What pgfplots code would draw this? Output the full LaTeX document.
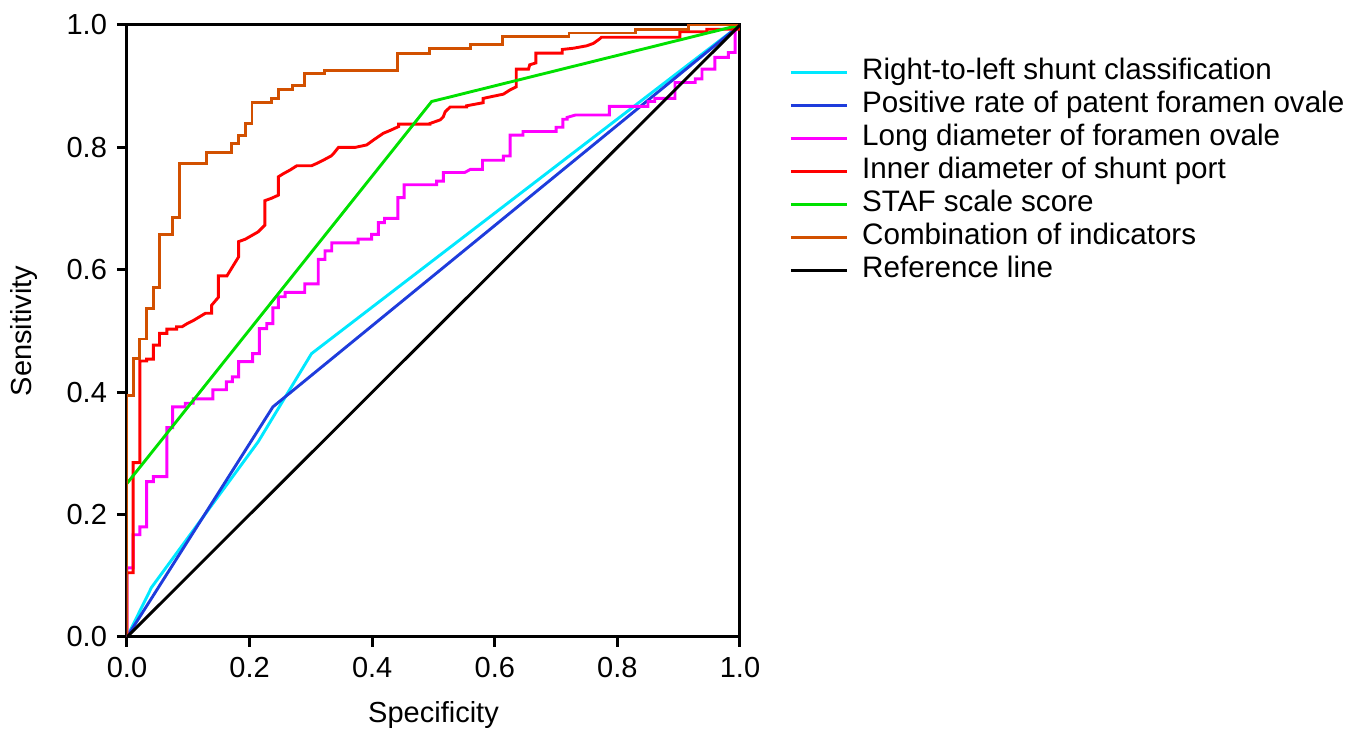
\documentclass[border=0pt]{standalone}
\usepackage{fontspec}
\setmainfont{Liberation Sans}
\usepackage{pgfplots}
\pgfplotsset{compat=1.18}

\definecolor{rlscol}{RGB}{0,232,255}
\definecolor{pfocol}{RGB}{30,60,220}
\definecolor{longcol}{RGB}{255,0,255}
\definecolor{innercol}{RGB}{255,0,0}
\definecolor{stafcol}{RGB}{0,225,0}
\definecolor{combcol}{RGB}{210,80,0}

\begin{document}
\fontsize{14.5}{17}\selectfont
\begin{tikzpicture}
\useasboundingbox (-63.5pt,-46pt) rectangle (609.5pt,318.5pt);
\begin{axis}[
    at={(0pt,0pt)}, anchor=south west,
    scale only axis,
    width=306.5pt, height=306pt,
    xmin=0, xmax=1, ymin=0, ymax=1,
    axis line style={line width=1.5pt},
    tick align=outside,
    xtick pos=left, ytick pos=left,
    major tick length=5pt,
    tick style={line width=1.5pt, black},
    xtick={0,0.2,0.4,0.6,0.8,1},
    ytick={0,0.2,0.4,0.6,0.8,1},
    xticklabels={0.0,0.2,0.4,0.6,0.8,1.0},
    yticklabels={0.0,0.2,0.4,0.6,0.8,1.0},
    xlabel={Specificity},
    ylabel={Sensitivity},
    xlabel style={at={(axis description cs:0.5,-0.127)}, anchor=center},
    ylabel style={at={(axis description cs:-0.168,0.5)}, anchor=center, rotate=0},
    legend style={at={(axis description cs:1.07,0.955)}, anchor=north west,
        draw=none, fill=none, row sep=1pt, column sep=6pt,
        font=\fontsize{14.8}{17}\selectfont,
        nodes={inner sep=1pt, text height=10.5pt, text depth=3pt},
        cells={anchor=west}},
    legend image code/.code={\draw[#1] (0pt,0pt) -- (28pt,0pt);},
    every axis plot/.append style={line width=1.45pt, line join=miter},
]
\addplot[rlscol] coordinates {
    (0,0) (0.040,0.081) (0.214,0.319) (0.301,0.463) (1,1)
};
\addlegendentry{Right-to-left shunt classification}
\addplot[pfocol] coordinates {
    (0,0) (0.238,0.376) (1,1)
};
\addlegendentry{Positive rate of patent foramen ovale}
\addplot[longcol] coordinates {
    (0,0) (0,0.113) (0.010,0.113) (0.010,0.167) (0.021,0.167) (0.021,0.180)
    (0.032,0.180) (0.032,0.254) (0.043,0.254) (0.043,0.262) (0.065,0.262)
    (0.065,0.342) (0.0745,0.342) (0.0745,0.376) (0.095,0.376) (0.095,0.382)
    (0.108,0.382) (0.108,0.389) (0.140,0.389) (0.140,0.404) (0.162,0.404)
    (0.162,0.417) (0.172,0.417) (0.172,0.425) (0.182,0.425) (0.182,0.450)
    (0.205,0.450) (0.205,0.463) (0.216,0.463) (0.216,0.504) (0.228,0.504)
    (0.228,0.512) (0.238,0.512) (0.238,0.538) (0.247,0.538) (0.247,0.556)
    (0.258,0.556) (0.258,0.563) (0.290,0.563) (0.290,0.577) (0.312,0.577)
    (0.312,0.617) (0.323,0.617) (0.323,0.631) (0.334,0.631) (0.334,0.644)
    (0.377,0.644) (0.377,0.650) (0.399,0.650) (0.399,0.658) (0.410,0.658)
    (0.410,0.677) (0.420,0.677) (0.420,0.684) (0.442,0.684) (0.442,0.718)
    (0.452,0.718) (0.452,0.739) (0.505,0.739) (0.505,0.745) (0.516,0.745)
    (0.516,0.759) (0.551,0.759) (0.560,0.764) (0.580,0.764) (0.580,0.779)
    (0.614,0.779) (0.614,0.786) (0.625,0.786) (0.625,0.820) (0.646,0.820)
    (0.646,0.826) (0.700,0.826) (0.700,0.833) (0.711,0.833) (0.711,0.846)
    (0.718,0.846) (0.718,0.849) (0.732,0.853) (0.787,0.853) (0.787,0.867)
    (0.850,0.867) (0.850,0.875) (0.861,0.875) (0.861,0.880) (0.894,0.880)
    (0.894,0.906) (0.927,0.906) (0.927,0.912) (0.938,0.912) (0.938,0.928)
    (0.959,0.928) (0.959,0.947) (0.981,0.947) (0.981,0.955) (0.992,0.955)
    (0.992,0.990) (1,1)
};
\addlegendentry{Long diameter of foramen ovale}
\addplot[innercol] coordinates {
    (0,0) (0,0.105) (0.010,0.105) (0.010,0.285) (0.021,0.285) (0.021,0.451)
    (0.032,0.451) (0.032,0.454) (0.043,0.454) (0.043,0.477) (0.053,0.477)
    (0.053,0.496) (0.065,0.496) (0.065,0.503) (0.081,0.503) (0.081,0.507)
    (0.090,0.507) (0.098,0.512) (0.108,0.517) (0.118,0.523) (0.128,0.529)
    (0.138,0.529) (0.138,0.542) (0.149,0.555) (0.149,0.590) (0.163,0.590)
    (0.182,0.621) (0.182,0.646) (0.193,0.650) (0.214,0.662) (0.225,0.673)
    (0.225,0.713) (0.236,0.717) (0.247,0.722) (0.247,0.752) (0.255,0.757)
    (0.266,0.763) (0.277,0.770) (0.301,0.770) (0.310,0.774) (0.320,0.779)
    (0.333,0.786) (0.337,0.790) (0.345,0.800) (0.372,0.800) (0.391,0.804)
    (0.402,0.812) (0.418,0.823) (0.430,0.828) (0.443,0.834) (0.443,0.838)
    (0.494,0.838) (0.494,0.839) (0.511,0.845) (0.516,0.850) (0.519,0.858)
    (0.527,0.866) (0.554,0.866) (0.554,0.868) (0.581,0.873) (0.581,0.880)
    (0.590,0.882) (0.614,0.887) (0.625,0.894) (0.635,0.899) (0.635,0.928)
    (0.655,0.928) (0.657,0.935) (0.667,0.938) (0.667,0.954) (0.710,0.954)
    (0.710,0.960) (0.728,0.962) (0.750,0.966) (0.761,0.970) (0.772,0.978)
    (0.774,0.980) (0.902,0.980) (0.902,0.989) (0.946,0.989) (0.946,0.993)
    (1,0.993) (1,1)
};
\addlegendentry{Inner diameter of shunt port}
\addplot[stafcol] coordinates {
    (0,0.251) (0.497,0.875) (1,1)
};
\addlegendentry{STAF scale score}
\addplot[combcol] coordinates {
    (0,0) (0,0.395) (0.010,0.395) (0.010,0.455) (0.020,0.455) (0.020,0.487)
    (0.032,0.487) (0.032,0.537) (0.043,0.537) (0.043,0.571) (0.053,0.571)
    (0.053,0.658) (0.0745,0.658) (0.0745,0.685) (0.085,0.685) (0.085,0.773)
    (0.129,0.773) (0.129,0.792) (0.171,0.792) (0.171,0.806) (0.182,0.806)
    (0.182,0.819) (0.194,0.819) (0.194,0.839) (0.204,0.839) (0.204,0.873)
    (0.236,0.873) (0.236,0.880) (0.247,0.880) (0.247,0.894) (0.270,0.894)
    (0.270,0.901) (0.290,0.901) (0.290,0.921) (0.322,0.921) (0.322,0.926)
    (0.442,0.926) (0.442,0.954) (0.494,0.954) (0.494,0.961) (0.560,0.961)
    (0.560,0.968) (0.612,0.968) (0.612,0.981) (0.721,0.981) (0.721,0.987)
    (0.830,0.987) (0.830,0.993) (0.916,0.993) (0.916,1) (1,1)
};
\addlegendentry{Combination of indicators}
\addplot[black] coordinates {
    (0,0) (1,1)
};
\addlegendentry{Reference line}
\end{axis}
\end{tikzpicture}
\end{document}
